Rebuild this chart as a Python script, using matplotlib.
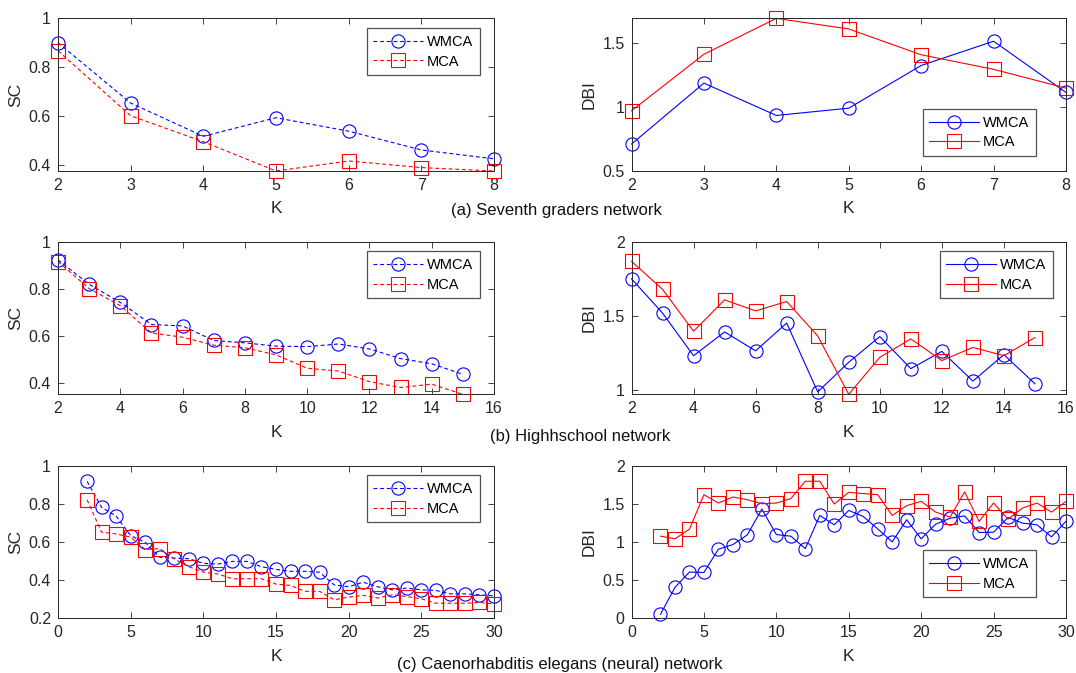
"""SC / DBI vs K for WMCA and MCA on three networks (MATLAB-style figure)."""
import numpy as np
import matplotlib
matplotlib.use('Agg')
import matplotlib.pyplot as plt
from matplotlib.ticker import FormatStrFormatter

plt.rcParams['font.family'] = ['Liberation Sans', 'DejaVu Sans']

# (a) Seventh graders
k_a = list(range(2, 9))
sc_a_wmca = [0.90, 0.653, 0.517, 0.593, 0.538, 0.461, 0.425]
sc_a_mca = [0.867, 0.601, 0.495, 0.375, 0.416, 0.389, 0.375]
dbi_a_wmca = [0.711, 1.188, 0.935, 0.992, 1.326, 1.516, 1.115]
dbi_a_mca = [0.971, 1.414, 1.695, 1.612, 1.41, 1.296, 1.149]

# (b) Highschool
k_b = list(range(2, 16))
sc_b_wmca = [0.922, 0.818, 0.741, 0.647, 0.641, 0.579, 0.569, 0.555, 0.553,
             0.564, 0.543, 0.502, 0.48, 0.435]
sc_b_mca = [0.915, 0.80, 0.727, 0.611, 0.593, 0.559, 0.548, 0.518, 0.461,
            0.449, 0.404, 0.379, 0.393, 0.35]
dbi_b_wmca = [1.749, 1.518, 1.231, 1.391, 1.264, 1.451, 0.987, 1.187, 1.36,
              1.144, 1.26, 1.06, 1.238, 1.042]
dbi_b_mca = [1.867, 1.678, 1.396, 1.607, 1.533, 1.596, 1.364, 0.971, 1.22,
             1.344, 1.198, 1.287, 1.231, 1.353]

# (c) C. elegans neural
k_c = list(range(2, 31))
sc_c_wmca = [0.917, 0.781, 0.735, 0.633, 0.598, 0.519, 0.515, 0.512, 0.488,
             0.484, 0.498, 0.498, 0.47, 0.456, 0.446, 0.446, 0.441, 0.375,
             0.365, 0.389, 0.365, 0.349, 0.358, 0.349, 0.346, 0.328, 0.328,
             0.323, 0.317]
sc_c_mca = [0.821, 0.651, 0.642, 0.625, 0.56, 0.565, 0.511, 0.47, 0.442,
            0.432, 0.407, 0.407, 0.407, 0.379, 0.372, 0.341, 0.341, 0.297,
            0.311, 0.32, 0.306, 0.323, 0.314, 0.302, 0.279, 0.279, 0.279,
            0.283, 0.275]
dbi_c_wmca = [0.053, 0.404, 0.605, 0.60, 0.904, 0.965, 1.092, 1.43, 1.096,
              1.075, 0.912, 1.346, 1.224, 1.412, 1.333, 1.171, 1.0, 1.29,
              1.04, 1.232, 1.31, 1.34, 1.123, 1.127, 1.32, 1.246, 1.224,
              1.066, 1.27]
dbi_c_mca = [1.075, 1.04, 1.167, 1.618, 1.509, 1.588, 1.553, 1.5, 1.509,
             1.566, 1.794, 1.794, 1.496, 1.649, 1.632, 1.618, 1.346, 1.474,
             1.531, 1.39, 1.325, 1.654, 1.268, 1.509, 1.298, 1.443, 1.509,
             1.39, 1.53]

captions = ['(a) Seventh graders network', '(b) Highhschool network',
            '(c) Caenorhabditis elegans (neural) network']

fig = plt.figure(figsize=(10.76, 6.73), dpi=100)
fc = '#262626'
rows = [0.7459, 0.4141, 0.0813]
H = 0.227


def style(ax, xlim, xt, ylim, yt, ylab):
    ax.set_xlim(*xlim); ax.set_ylim(*ylim)
    ax.set_xticks(xt); ax.set_yticks(yt)
    ax.yaxis.set_major_formatter(FormatStrFormatter('%g'))
    ax.tick_params(direction='in', top=True, right=True, labelsize=11.5,
                   colors=fc, length=4, width=0.6, pad=5)
    for s in ax.spines.values():
        s.set_color(fc); s.set_linewidth(0.7)
    ax.set_xlabel('K', fontsize=12.5, color=fc, labelpad=6)
    ax.set_ylabel(ylab, fontsize=12.5, color=fc, labelpad=4)


def draw(ax, k, w, m, ls):
    kw = dict(lw=0.8, mfc='none', ms=9.5, mew=0.8, clip_on=False)
    ax.plot(k, w, color='b', marker='o', ls=ls, label='WMCA', **kw)
    ax.plot(k, m, color='r', marker='s', ls=ls, label='MCA', **kw)


def legend(ax, loc, anchor):
    lg = ax.legend(loc=loc, bbox_to_anchor=anchor, fontsize=10.5, fancybox=False,
                   handlelength=3.4, borderpad=0.45, labelspacing=0.4,
                   handletextpad=0.3, borderaxespad=0)
    lg.get_frame().set_edgecolor(fc)
    lg.get_frame().set_linewidth(0.9)


dash = (0, (3.5, 2.5))
panels = [
    (k_a, sc_a_wmca, sc_a_mca, dbi_a_wmca, dbi_a_mca, (2, 8), range(2, 9),
     (0.375, 1), [0.4, 0.6, 0.8, 1], (0.5, 1.696), [0.5, 1, 1.5],
     ('lower right', (0.931, 0.098))),
    (k_b, sc_b_wmca, sc_b_mca, dbi_b_wmca, dbi_b_mca, (2, 16), range(2, 17, 2),
     (0.35, 1), [0.4, 0.6, 0.8, 1], (0.971, 2), [1, 1.5, 2],
     ('upper right', (0.97, 0.935))),
    (k_c, sc_c_wmca, sc_c_mca, dbi_c_wmca, dbi_c_mca, (0, 30), range(0, 31, 5),
     (0.2, 1), [0.2, 0.4, 0.6, 0.8, 1], (0, 2), [0, 0.5, 1, 1.5, 2],
     ('lower right', (0.931, 0.138))),
]

for i, (k, sw, sm, dw, dm, xl, xt, yl1, yt1, yl2, yt2, leg2) in enumerate(panels):
    ax1 = fig.add_axes([0.0539, rows[i], 0.4052, H])
    draw(ax1, k, sw, sm, dash)
    style(ax1, xl, xt, yl1, yt1, 'SC')
    legend(ax1, 'upper right', (0.968, 0.935))

    ax2 = fig.add_axes([0.5869, rows[i], 0.4038, H])
    draw(ax2, k, dw, dm, '-')
    style(ax2, xl, xt, yl2, yt2, 'DBI')
    legend(ax2, *leg2)

fig.text(556 / 1076, 1 - 210.5 / 673, captions[0], ha='center', va='center',
         fontsize=12, color='#111111')
fig.text(580 / 1076, 1 - 437 / 673, captions[1], ha='center', va='center',
         fontsize=12, color='#111111')
fig.text(560 / 1076, 1 - 664 / 673, captions[2], ha='center', va='center',
         fontsize=12, color='#111111')

fig.savefig('out.png', dpi=100)
